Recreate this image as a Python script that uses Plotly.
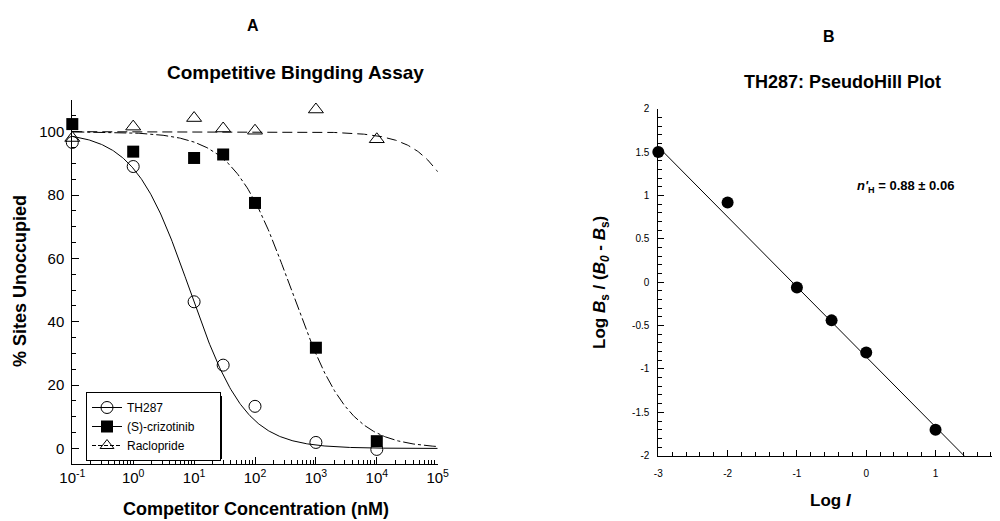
import numpy as np
import plotly.graph_objects as go

# ---------------- Panel A data ----------------
conc_nM = [0.1, 1, 10, 30, 100, 1000, 10000]
th287 = [96.6, 89.0, 46.3, 26.3, 13.3, 1.9, -0.3]
crizotinib = [102.4, 93.7, 91.7, 92.8, 77.5, 31.8, 2.3]
raclopride = [98.0, 101.6, 104.3, 101.0, 100.3, 107.0, 97.6]

# fitted one-site competition parameters (IC50 nM, Hill slope)
fit_th287 = (8.5, 0.95)
fit_crizotinib = (395.0, 0.92)
fit_raclopride = (6.4e5, 1.04)

x_tickvals = [0.1, 1, 10, 100, 1000, 10000, 100000]
x_ticktext = ["10<sup>-1</sup>", "10<sup>0</sup>", "10<sup>1</sup>", "10<sup>2</sup>",
              "10<sup>3</sup>", "10<sup>4</sup>", "10<sup>5</sup>"]
y_tickvals = [0, 20, 40, 60, 80, 100]

# ---------------- Panel B data ----------------
log_I = [-3, -2, -1, -0.5, 0, 1]
log_ratio = [1.50, 0.92, -0.06, -0.44, -0.81, -1.70]
hill_fit = (-0.807, -0.861)  # slope, intercept
bx_tickvals = [-3, -2, -1, 0, 1]
bx_ticktext = ["-3", "-2", "-1", "0", "1"]
by_tickvals = [-2, -1.5, -1, -0.5, 0, 0.5, 1, 1.5, 2]
by_ticktext = ["-2", "-1.5", "-1", "-0.5", "0", "0.5", "1", "1.5", "2"]

FONT = "Liberation Sans, Arial, sans-serif"
OFF = 8            # page body margin
W, H = 1000 - OFF, 521 - OFF
NB = "\u00a0"


def px(x):
    return (x - OFF) / W


def py(y):
    return 1 - (y - OFF) / H


def hill(x, p):
    ic50, n = p
    x = np.asarray(x)
    return 100.0 / (1.0 + (x / ic50) ** n)


xs = np.logspace(-1, 5, 400)

fig = go.Figure()

# fitted curves
fig.add_trace(go.Scatter(x=xs, y=hill(xs, fit_th287), mode="lines",
                         line=dict(color="black", width=1), showlegend=False,
                         xaxis="x", yaxis="y"))
fig.add_trace(go.Scatter(x=xs, y=hill(xs, fit_crizotinib), mode="lines",
                         line=dict(color="black", width=1, dash="12px,3px,3px,3px"),
                         showlegend=False, xaxis="x", yaxis="y"))
fig.add_trace(go.Scatter(x=xs, y=hill(xs, fit_raclopride), mode="lines",
                         line=dict(color="black", width=1, dash="10px,5px"),
                         showlegend=False, xaxis="x", yaxis="y"))

# data points
fig.add_trace(go.Scatter(x=conc_nM, y=raclopride, mode="markers",
                         marker=dict(symbol="triangle-up-open", size=13, color="black",
                                     line=dict(width=1)),
                         showlegend=False, xaxis="x", yaxis="y", cliponaxis=False))
fig.add_trace(go.Scatter(x=conc_nM, y=th287, mode="markers",
                         marker=dict(symbol="circle-open", size=12, color="black",
                                     line=dict(width=1)),
                         showlegend=False, xaxis="x", yaxis="y", cliponaxis=False))
fig.add_trace(go.Scatter(x=conc_nM, y=crizotinib, mode="markers",
                         marker=dict(symbol="square", size=12, color="black"),
                         showlegend=False, xaxis="x", yaxis="y", cliponaxis=False))

# legend entries
fig.add_trace(go.Scatter(x=[None], y=[None], mode="lines+markers", name="TH287",
                         line=dict(color="black", width=1),
                         marker=dict(symbol="circle-open", size=12, color="black"),
                         xaxis="x", yaxis="y"))
fig.add_trace(go.Scatter(x=[None], y=[None], mode="lines+markers",
                         name="(S)-crizotinib" + NB * 6,
                         line=dict(color="black", width=1),
                         marker=dict(symbol="square", size=12, color="black"),
                         xaxis="x", yaxis="y"))
fig.add_trace(go.Scatter(x=[None], y=[None], mode="lines+markers", name="Raclopride",
                         line=dict(color="black", width=1, dash="4px,2px"),
                         marker=dict(symbol="triangle-up-open", size=12, color="black"),
                         xaxis="x", yaxis="y"))

# Panel B
bx = np.array([-3.0, 2.0])
fig.add_trace(go.Scatter(x=bx, y=hill_fit[0] * bx + hill_fit[1], mode="lines",
                         line=dict(color="black", width=1), showlegend=False,
                         xaxis="x2", yaxis="y2"))
fig.add_trace(go.Scatter(x=log_I, y=log_ratio, mode="markers",
                         marker=dict(symbol="circle", size=12, color="black"),
                         showlegend=False, xaxis="x2", yaxis="y2", cliponaxis=False))

axis_common = dict(showline=True, linecolor="black", linewidth=1, showgrid=False,
                   zeroline=False, ticks="inside", tickcolor="black", tickwidth=1,
                   mirror=False, automargin=False)

fig.update_layout(
    width=W, height=H,
    margin=dict(l=0, r=0, t=0, b=0, autoexpand=False),
    paper_bgcolor="white", plot_bgcolor="white",
    font=dict(family=FONT, color="black"),
    xaxis=dict(domain=[px(72.3), px(437.7)], type="log", range=[-1, 5],
               tickvals=x_tickvals, ticktext=x_ticktext, ticklen=7,
               tickfont=dict(size=15), anchor="y",
               minor=dict(ticks="inside", ticklen=4, tickcolor="black",
                          tickvals=[m * d for d in [0.1, 1, 10, 100, 1000, 10000]
                                    for m in range(2, 10)]),
               **axis_common),
    yaxis=dict(domain=[py(464.3), py(100)], range=[-5, 110],
               tickvals=y_tickvals, ticklen=7, tickfont=dict(size=15), anchor="x",
               ticklabelstandoff=4,
               minor=dict(ticks="inside", ticklen=4, tickcolor="black", dtick=5, tick0=0),
               **axis_common),
    xaxis2=dict(domain=[px(658.3), 1.0], range=[-3, 1.93],
                tickvals=bx_tickvals, ticktext=bx_ticktext, ticklen=6,
                tickfont=dict(size=10), anchor="y2", ticklabelstandoff=8,
                minor=dict(ticks="inside", ticklen=3.5, tickcolor="black", dtick=0.2, tick0=-3),
                **axis_common),
    yaxis2=dict(domain=[py(455.7), py(108.7)], range=[-2, 2],
                tickvals=by_tickvals, ticktext=by_ticktext, ticklen=6,
                tickfont=dict(size=10), anchor="x2", ticklabelstandoff=6,
                minor=dict(ticks="inside", ticklen=3.5, tickcolor="black", dtick=0.1, tick0=-2),
                **axis_common),
    legend=dict(x=px(86), y=py(392), xanchor="left", yanchor="top",
                bgcolor="white", bordercolor="black", borderwidth=1,
                font=dict(size=12, family=FONT), itemwidth=30,
                tracegroupgap=0),
)

# legend shadow
fig.add_shape(type="rect", xref="paper", yref="paper",
              x0=px(90), x1=px(222), y0=py(459), y1=py(396),
              fillcolor="black", line=dict(width=0), layer="above")


def ann(text, x, y, size, textangle=0):
    fig.add_annotation(text=text, x=px(x), y=py(y), xref="paper", yref="paper",
                       showarrow=False, xanchor="center", yanchor="middle",
                       font=dict(size=size, family=FONT, color="black"),
                       textangle=textangle)


ann("<b>A</b>", 252.5, 25, 16)
ann("<b>Competitive Bingding Assay</b>", 295, 72, 19)
ann("<b>% Sites Unoccupied</b>", 20, 281, 18, -90)
ann("<b>Competitor Concentration (nM)</b>", 256, 509, 18)
ann("<b>B</b>", 829, 36, 16)
ann("<b>TH287: PseudoHill Plot</b>", 842.5, 82, 18)
ann("<b><i>n'</i><sub>H</sub> = 0.88 ± 0.06</b>", 905, 187, 13)
ann("<b>Log <i>B</i><sub>s</sub> / (<i>B</i><sub><i>0</i></sub> - <i>B</i><sub>s</sub>)</b>",
    601, 283, 17, -90)
ann("<b>Log <i>I</i></b>", 831, 500, 17)

fig.write_html("out.html")
